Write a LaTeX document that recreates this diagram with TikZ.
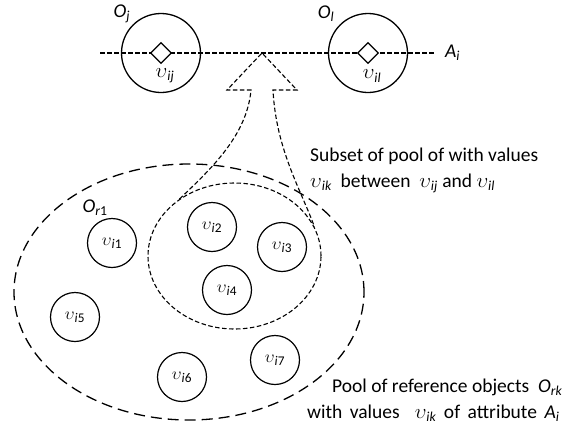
\documentclass[tikz,border=0pt]{standalone}
\usepackage{fontspec}
\setmainfont{Carlito}
\usetikzlibrary{positioning, shapes.geometric}
\newcommand{\vsub}[1]{$\upsilon$\textsubscript{\textit{#1}}}
\newcommand{\vnum}[1]{$\upsilon$\textsubscript{\textit{i}#1}}
\newcommand{\osub}[1]{\textit{O}\textsubscript{\textit{#1}}}
\tikzset{
  obj/.style={circle, draw, line width=1.3pt, minimum size=79pt, inner sep=0pt},
  val/.style={circle, draw, line width=1.2pt, minimum size=49pt, inner sep=0pt, font=\fontsize{19}{22}\selectfont},
  valmark/.style={diamond, draw, line width=1.2pt, fill=white, minimum size=21pt, inner sep=0pt},
  fine/.style={line width=1.1pt, dash pattern=on 4.5pt off 2.5pt},
  coarse/.style={line width=1.3pt, dash pattern=on 11pt off 6pt},
  lbl/.style={inner sep=0pt, font=\fontsize{19.5}{23}\selectfont},
}
\begin{document}
\begin{tikzpicture}[x=1pt, y=-1pt]
  \useasboundingbox (0,0) rectangle (571,429);
  % attribute axis
  \coordinate (axL) at (100,53);
  \coordinate (axR) at (435,53);
  \draw[fine] (axL) -- (axR);
  \node[lbl, right=10pt of axR] (Ai) {\textit{A}\textsubscript{\textit{i}}};
  % end objects
  \node[obj] (Oj) at (161,53) {};
  \node[obj] (Ol) at (368,53) {};
  \node[valmark] (dj) at (Oj) {};
  \node[valmark] (dl) at (Ol) {};
  \node[lbl] (lOj) at (122,14) {\osub{j}};
  \node[lbl] (lOl) at (326,14) {\osub{l}};
  \node[lbl] (vij) at (165,76) {\vsub{ij}};
  \node[lbl] (vil) at (372,76) {\vsub{il}};
  % pools
  \node[ellipse, draw, coarse, minimum width=350pt, minimum height=256pt, inner sep=0pt] (pool) at (189,292) {};
  \node[ellipse, draw, fine, minimum width=173pt, minimum height=146pt, inner sep=0pt] (sub) at (234.5,256) {};
  \node[lbl] (lOr) at (95,208) {\textit{O}\textsubscript{\textit{r}1}};
  \foreach \n/\x/\y in {1/112/243, 2/212/227, 3/282/247, 4/227/290, 5/75/317, 6/182/377, 7/275/360}
    \node[val] (v\n) at (\x,\y) {\vnum{\n}};
  % hollow arrow from subset to axis
  \coordinate (tip) at (262,53);
  \coordinate (hdL) at (227,90);
  \coordinate (hdR) at (297,90);
  \coordinate (shL) at (251,90);
  \coordinate (shR) at (273,90);
  \draw[fine] (sub.134) .. controls (212,168) and (247,135) .. (shL) -- (hdL) -- (tip)
    -- (hdR) -- (shR) .. controls (276,150) and (302,192) .. (sub.20);
  % notes
  \node[lbl, anchor=base west] (n1) at (310,161) {Subset of pool of with values};
  \node[lbl, anchor=base west] (n2) at (310,187) {\vsub{ik}\ \ between\ \ \vsub{ij} and \vsub{il}};
  \node[lbl, anchor=base west] (n3) at (332,392) {Pool of reference\ objects\ \ \textit{O}\textsubscript{\textit{rk}}};
  \node[lbl, anchor=base west] (n4) at (307,418) {\spaceskip=7.5pt\relax with values\ \ \vsub{ik} of attribute \textit{A}\textsubscript{\textit{i}}};
\end{tikzpicture}
\end{document}
